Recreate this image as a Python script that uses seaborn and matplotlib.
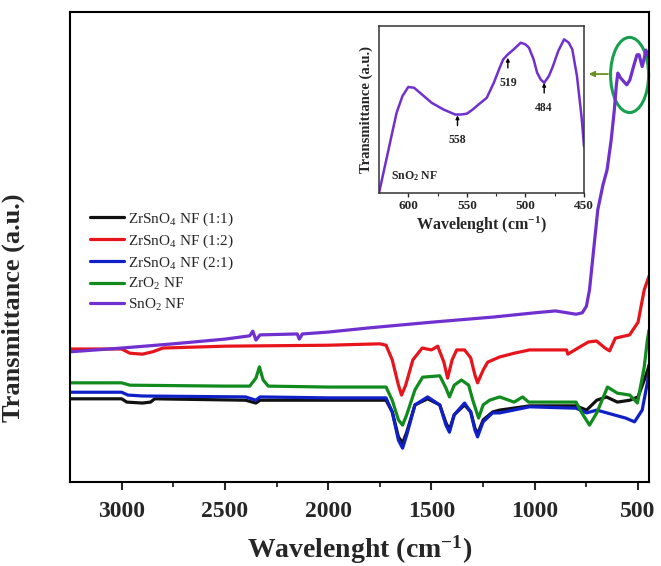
import numpy as np
import pandas as pd
import matplotlib
matplotlib.use("Agg")
import matplotlib.pyplot as plt
from matplotlib.patches import Ellipse
import seaborn as sns

# ---- FTIR spectra (wavenumber in cm^-1, transmittance in a.u.) ----
wn_zr11 = [3250, 3000, 2975, 2900, 2860, 2840, 2400, 2350, 2330, 2000, 1720, 1690, 1660, 1640, 1620,
           1580, 1519, 1460, 1430, 1413, 1390, 1340, 1310, 1290, 1277, 1250, 1204, 1170, 1025, 800,
           749, 700, 653, 600, 540, 500, 470, 450, 447]
t_zr11 = [17.7, 17.7, 17.0, 16.8, 17.0, 17.7, 17.4, 16.8, 17.4, 17.4, 17.4, 14.9, 9.6, 8.3, 10.6,
          16.4, 17.7, 16.4, 12.6, 11.1, 14.3, 16.4, 14.9, 11.5, 10.2, 13.2, 14.9, 15.3, 16.2, 16.2,
          15.3, 17.4, 18.1, 17.0, 17.4, 18.1, 21.7, 24.3, 24.9]

wn_zr12 = [3250, 3000, 2960, 2900, 2850, 2800, 2500, 2000, 1750, 1720, 1690, 1660, 1645, 1625, 1590,
           1545, 1500, 1470, 1440, 1422, 1400, 1378, 1340, 1310, 1290, 1277, 1250, 1228, 1170, 1100,
           1025, 900, 846, 840, 783, 740, 701, 660, 638, 610, 541, 500, 470, 450, 447]
t_zr12 = [28.3, 28.3, 27.4, 27.2, 27.7, 28.5, 28.9, 29.1, 29.4, 29.1, 26.0, 20.6, 18.5, 20.6, 26.0,
          28.5, 28.1, 28.9, 25.5, 22.1, 26.0, 28.1, 28.1, 26.4, 22.8, 21.1, 23.8, 25.5, 26.6, 27.4,
          28.1, 28.1, 28.1, 27.2, 28.7, 29.8, 30.0, 28.5, 27.9, 30.6, 31.3, 34.0, 40.9, 43.4, 43.8]

wn_zr21 = [3250, 3000, 2970, 2900, 2400, 2350, 2330, 2000, 1720, 1690, 1660, 1640, 1620, 1580, 1519,
           1460, 1430, 1413, 1390, 1340, 1310, 1290, 1277, 1250, 1204, 1170, 1025, 800, 749, 700,
           560, 517, 480, 455, 447]
t_zr21 = [19.1, 19.1, 18.5, 18.3, 18.1, 17.4, 18.1, 17.9, 17.9, 14.9, 8.9, 7.2, 10.0, 16.4, 18.1,
          16.4, 12.1, 10.6, 14.3, 16.8, 14.9, 11.1, 9.6, 12.8, 14.7, 14.7, 16.0, 15.7, 14.7, 15.3,
          13.6, 12.8, 15.3, 21.1, 23.4]

wn_zro2 = [3250, 3000, 2960, 2500, 2380, 2350, 2333, 2315, 2290, 2000, 1720, 1690, 1660, 1640, 1620,
           1580, 1543, 1460, 1430, 1413, 1390, 1355, 1320, 1300, 1272, 1250, 1219, 1170, 1100, 1059,
           1030, 800, 775, 735, 700, 648, 600, 540, 503, 470, 455, 447]
t_zro2 = [21.1, 21.1, 20.6, 20.4, 20.4, 22.1, 24.5, 21.7, 20.4, 20.2, 20.2, 17.4, 13.2, 12.1, 14.3,
          19.6, 22.3, 22.6, 20.0, 18.1, 20.6, 21.7, 20.6, 17.4, 13.6, 16.4, 17.4, 18.1, 17.0, 18.1,
          17.0, 17.0, 14.9, 12.1, 14.7, 20.2, 18.9, 18.5, 16.8, 24.5, 30.2, 32.3]

wn_sno2 = [3250, 3000, 2750, 2500, 2380, 2365, 2350, 2330, 2150, 2140, 2125, 2000, 1800, 1500, 1200,
           1000, 900, 800, 770, 750, 735, 715, 695, 670, 650, 630, 615, 605, 598, 585,
           555, 540, 520, 505, 495, 480, 472, 462, 447]
t_sno2 = [27.7, 28.5, 29.4, 30.4, 31.1, 32.1, 30.2, 31.3, 31.5, 30.4, 31.5, 31.9, 32.8, 34.0, 35.1,
          36.0, 36.4, 35.7, 36.0, 37.4, 40.9, 49.4, 57.9, 63.2, 66.4, 72.8, 79.1, 84.5, 87.0, 86.0,
          84.5, 85.5, 88.7, 90.9, 90.9, 88.4, 89.8, 91.9, 90.2]

# ---- SnO2 low-wavenumber region (inset) ----
wn_inset = [625, 615, 610, 605, 600, 595, 590, 580, 570, 560, 555, 550, 545, 540, 533, 527, 522, 519,
            515, 510, 504, 500, 497, 493, 490, 487, 484, 480, 477, 472, 467, 463, 460, 456, 452, 450]
t_inset = [0, 32, 48, 58, 63.5, 63, 60, 54, 50, 47, 47, 47.5, 50, 53, 57, 66, 75, 80,
           83, 86, 90, 89, 87, 80, 72, 68, 66, 70, 75, 85, 92, 90, 86, 70, 45, 28]

peak_labels = ["558", "519", "484"]
peak_wn = [558, 515, 484]
peak_t = [46.5, 81, 66]

labels = ["ZrSnO$_4$ NF (1:1)", "ZrSnO$_4$ NF (1:2)", "ZrSnO$_4$ NF (2:1)",
          "ZrO$_2$ NF", "SnO$_2$ NF"]
colors = ["#111111", "#e8141c", "#1020c8", "#118a1e", "#7030d0"]
series_wn = [wn_zr11, wn_zr12, wn_zr21, wn_zro2, wn_sno2]
series_t = [t_zr11, t_zr12, t_zr21, t_zro2, t_sno2]

xticks = [3000, 2500, 2000, 1500, 1000, 500]
inset_xticks = [600, 550, 500, 450]

# ---- style ----
sns.set_style("white")
plt.rcParams["font.family"] = ["Liberation Serif", "DejaVu Serif"]
plt.rcParams["mathtext.fontset"] = "custom"
plt.rcParams["mathtext.rm"] = "Liberation Serif"
plt.rcParams["mathtext.bf"] = "Liberation Serif:bold"
plt.rcParams["mathtext.it"] = "Liberation Serif:italic"

fig = plt.figure(figsize=(6.61, 5.66), dpi=100)
ax = fig.add_axes([70 / 661, 1 - 482 / 566, 579 / 661, 470 / 566])

for wn, t, lab, c in zip(series_wn, series_t, labels, colors):
    df = pd.DataFrame({"wn": wn, "t": t})
    sns.lineplot(data=df, x="wn", y="t", color=c, lw=2.3, label=lab, ax=ax, sort=False)

ax.set_xlim(3250, 447)
ax.set_ylim(0, 100)
ax.set_xticks(xticks)
ax.set_xticks([2750, 2250, 1750, 1250, 750], minor=True)
ax.set_xticklabels([str(v) for v in xticks], fontsize=17, fontweight="bold")
ax.set_yticks([])
ax.tick_params(axis="x", which="major", direction="out", length=6, width=1.5, bottom=True, pad=8)
ax.tick_params(axis="x", which="minor", direction="out", length=3.5, width=1.3, bottom=True)
for s in ax.spines.values():
    s.set_visible(True)
    s.set_color("black")
    s.set_linewidth(1.5)

ax.set_xlabel("Wavelenght (cm$^{\\mathbf{-1}}$)", fontsize=20, fontweight="bold", labelpad=8)
ax.set_ylabel("Transmittance (a.u.)", fontsize=19, fontweight="bold")
ax.yaxis.set_label_coords(-0.078, 0.37)

ax.legend(loc="upper left", bbox_to_anchor=(0.035, 0.578), frameon=False, fontsize=11,
          handlelength=2.2, handletextpad=0.3, labelspacing=0.3, borderaxespad=0, borderpad=0)

# highlight of the SnO2 low-wavenumber bands
ell = Ellipse((541, 86.6), width=184, height=16, fill=False, edgecolor="#18a050", lw=2.2, clip_on=False)
ax.add_patch(ell)
ax.annotate("", xy=(752, 86.8), xytext=(632, 86.8),
            arrowprops=dict(arrowstyle="-|>", color="#6b8e23", lw=1.3, mutation_scale=8))

# ---- inset ----
axin = fig.add_axes([379 / 661, 1 - 193 / 566, 205 / 661, 167 / 566])
dfi = pd.DataFrame({"wn": wn_inset, "t": t_inset})
sns.lineplot(data=dfi, x="wn", y="t", color="#7030d0", lw=1.8, ax=axin, sort=False)
axin.set_xlim(625, 450)
axin.set_ylim(0, 100)
axin.set_xticks(inset_xticks)
axin.set_xticks([575, 525, 475], minor=True)
axin.set_xticklabels([str(v) for v in inset_xticks], fontsize=9.5, fontweight="bold")
axin.set_yticks([])
axin.tick_params(axis="x", which="major", direction="out", length=3, width=1, bottom=True, pad=2)
axin.tick_params(axis="x", which="minor", direction="out", length=2, width=0.8, bottom=True)
for s in axin.spines.values():
    s.set_visible(True)
    s.set_color("#333333")
    s.set_linewidth(1.1)
axin.set_xlabel("Wavelenght (cm$^{\\mathbf{-1}}$)", fontsize=11.5, fontweight="bold", labelpad=2)
axin.set_ylabel("Transmittance (a.u.)", fontsize=10.5, fontweight="bold", labelpad=4)
axin.text(0.06, 0.08, "SnO$_\\mathbf{2}$ NF", transform=axin.transAxes, fontsize=8.5, fontweight="bold")

for lab, x, y in zip(peak_labels, peak_wn, peak_t):
    axin.annotate(lab, xy=(x, y), xytext=(x, y - 15), ha="center", va="center",
                  fontsize=8.5, fontweight="bold",
                  arrowprops=dict(arrowstyle="-|>", color="black", lw=1, mutation_scale=5,
                                  shrinkA=4, shrinkB=0))

fig.savefig("out.png", dpi=100)
